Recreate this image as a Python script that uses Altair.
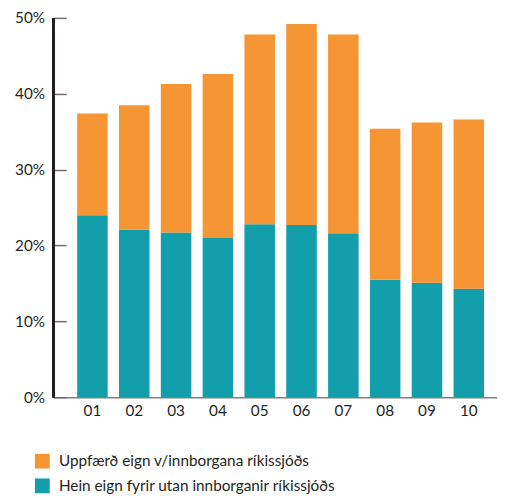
import altair as alt
import pandas as pd

years = ["01", "02", "03", "04", "05", "06", "07", "08", "09", "10"]
total = [37.4, 38.5, 41.3, 42.6, 47.8, 49.2, 47.8, 35.4, 36.2, 36.6]
teal_vals = [24.0, 22.1, 21.7, 21.0, 22.8, 22.7, 21.6, 15.5, 15.1, 14.3]
series_names = ["Uppfærð eign v/innborgana ríkissjóðs", "Hein eign fyrir utan innborganir ríkissjóðs"]
colors = ["#F69533", "#129FAB"]
y_ticks = [0, 0.1, 0.2, 0.3, 0.4, 0.5]

rows = []
for yr, t, b in zip(years, total, teal_vals):
    rows.append({"year": yr, "series": series_names[1], "value": b / 100, "rank": 0})
    rows.append({"year": yr, "series": series_names[0], "value": (t - b) / 100, "rank": 1})
df = pd.DataFrame(rows)

W, H = 449, 384
FONT = "Lato"
FS = 15.5

bars = alt.Chart(df).mark_bar().encode(
    x=alt.X("year:N", title=None, sort=years,
            scale=alt.Scale(paddingInner=0.27, paddingOuter=0.4385, align=0.647),
            axis=alt.Axis(labelAngle=0, ticks=False, domainColor="#808080", domainWidth=1.5,
                          labelPadding=7, labelFontSize=FS, labelColor="#231F20", labelFont=FONT)),
    y=alt.Y("value:Q", title=None, stack="zero",
            scale=alt.Scale(domain=[0, 0.5], nice=False),
            axis=alt.Axis(values=y_ticks, format=".0%", domain=False, grid=False,
                          offset=-13, tickSize=13, tickColor="#6D6E71", tickWidth=1.5,
                          labelPadding=9, labelFontSize=FS, labelColor="#231F20", labelFont=FONT)),
    color=alt.Color("series:N",
                    scale=alt.Scale(domain=series_names, range=colors),
                    legend=alt.Legend(title=None, orient="none", legendX=-19, legendY=441,
                                      symbolType="square", symbolSize=225, symbolStrokeWidth=0,
                                      labelFontSize=FS, labelFont=FONT, labelColor="#231F20",
                                      labelLimit=0, rowPadding=8, labelOffset=9)),
    order=alt.Order("rank:Q"),
)

yline = alt.Chart(df).mark_rule(color="#231F20", strokeWidth=1.5).encode(
    x=alt.value(0), y=alt.value(0), y2=alt.value(H)
)

chart = alt.layer(bars, yline).properties(
    width=W, height=H,
    autosize=alt.AutoSizeParams(type="none"),
    padding={"left": 46, "top": 7, "right": 0, "bottom": 98},
).configure_view(stroke=None)

chart.save("out.html", embed_options={"renderer": "svg", "actions": False})
